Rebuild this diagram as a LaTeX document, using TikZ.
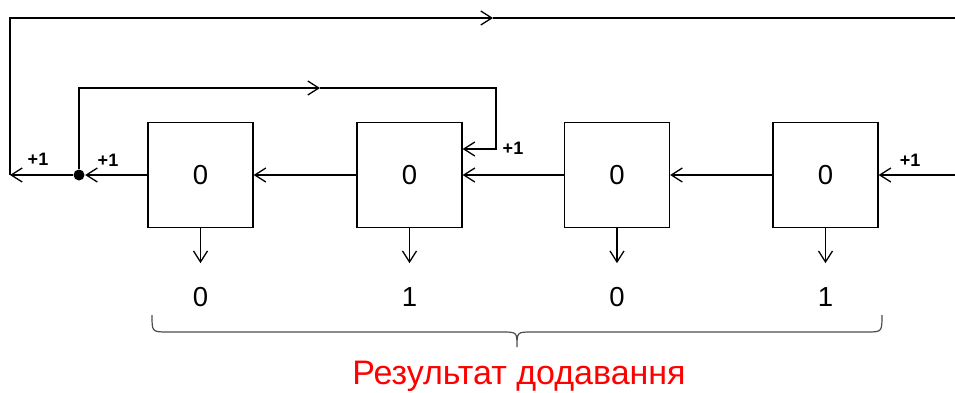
\documentclass[tikz,border=0pt]{standalone}
\usepackage{fontspec}
\setmainfont{Liberation Sans}
\usetikzlibrary{arrows.meta}
\begin{document}
\begin{tikzpicture}[x=1pt,y=-1pt, line width=1.3pt,
  >={Straight Barb[length=11pt,width=14pt]},
  reg/.style={draw, minimum size=105pt, inner sep=0pt, font=\fontsize{27.5}{27.5}\selectfont},
  lbl/.style={font=\fontsize{18}{18}\selectfont\bfseries, inner sep=0pt},
  bit/.style={font=\fontsize{27.5}{27.5}\selectfont, inner sep=0pt}]
\useasboundingbox (0,0) rectangle (955,392);
% registers
\node[reg] (b1) at (200.5,175) {0};
\node[reg] (b2) at (409.5,175) {0};
\node[reg] (b3) at (617,175) {0};
\node[reg] (b4) at (825.5,175) {0};
% junction dot
\node[circle, fill, inner sep=0pt, minimum size=11pt] (d) at (79,175) {};
% coordinates
\coordinate (L) at (10,175);
\coordinate (TL) at (10,18);
\coordinate (TM) at (493,18);
\coordinate (TR) at (955,18);
\coordinate (Rin) at (955,175);
\coordinate (IL) at (79,88);
\coordinate (IM) at (320,88);
\coordinate (IR) at (496,88);
\coordinate (ID) at (496,149);
% main chain
\draw[->] (b1.west) -- (d);
\draw[->] (d) -- (L);
\draw[->] (b2.west) -- (b1.east);
\draw[->] (b3.west) -- (b2.east);
\draw[->] (b4.west) -- (b3.east);
\draw[->] (Rin) -- (b4.east);
% outer loop
\draw[->] (L) -- (TL) -- (TM);
\draw (TM) -- (TR);
% inner loop
\draw[->] (d) -- (IL) -- (IM);
\draw[->] (IM) -- (IR) -- (ID) -- (ID -| b2.east);
% +1 labels
\node[lbl] (p1) at (38,159) {+1};
\node[lbl] (p2) at (108,160) {+1};
\node[lbl] (p3) at (513,148) {+1};
\node[lbl] (p4) at (910,160) {+1};
% outputs
\node[bit] (o1) at (200.5,297) {0};
\node[bit] (o2) at (409.5,297) {1};
\node[bit] (o3) at (617,297) {0};
\node[bit] (o4) at (825.5,297) {1};
\draw[->] (b1.south) -- ++(0,35);
\draw[->] (b2.south) -- ++(0,35);
\draw[->] (b3.south) -- ++(0,35);
\draw[->] (b4.south) -- ++(0,35);
% brace
\draw[gray!60!black, line width=1.2pt] (152,315) .. controls (152,332) .. (168,332) -- (502,332) .. controls (517,332) .. (517,347) .. controls (517,332) .. (532,332) -- (866,332) .. controls (882,332) .. (882,315);
\node[text=red, font=\fontsize{34}{34}\selectfont, inner sep=0pt] (res) at (519,376) {Результат додавання};
\end{tikzpicture}
\end{document}
